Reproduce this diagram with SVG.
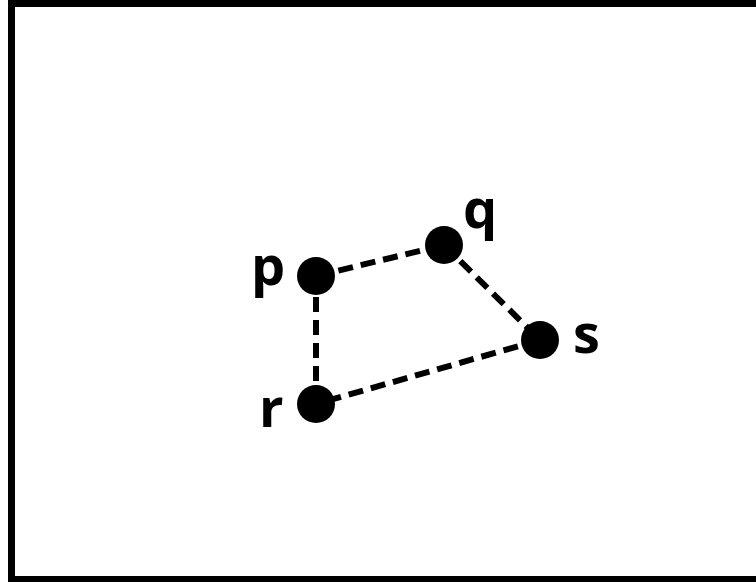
<svg xmlns="http://www.w3.org/2000/svg" width="756" height="582" viewBox="0 0 756 582">
  <style>
    .frame { fill: #ffffff; stroke: #000000; stroke-width: 7; }
    .edge { stroke: #000000; stroke-width: 6; stroke-dasharray: 15 8; fill: none; }
    .dot { fill: #000000; }
    .label { font-family: "Open Sans", "Liberation Sans", sans-serif; font-weight: bold; font-size: 54px; fill: #000000; }
  </style>
  <rect class="frame" x="11.5" y="3.5" width="760" height="576"/>
  <g id="connectors">
    <line class="edge" x1="316" y1="276" x2="444" y2="245"/>
    <line class="edge" x1="444" y1="245" x2="540" y2="340"/>
    <line class="edge" x1="540" y1="340" x2="316" y2="404"/>
    <line class="edge" x1="316" y1="404" x2="316" y2="276"/>
  </g>
  <g id="node-p">
    <circle class="dot" cx="316" cy="276" r="19"/>
    <text class="label" x="251" y="285">p</text>
  </g>
  <g id="node-q">
    <circle class="dot" cx="444" cy="245" r="19"/>
    <text class="label" x="463" y="228">q</text>
  </g>
  <g id="node-s">
    <circle class="dot" cx="540" cy="340" r="19"/>
    <text class="label" x="573" y="353">s</text>
  </g>
  <g id="node-r">
    <circle class="dot" cx="316" cy="404" r="19"/>
    <text class="label" x="259" y="427">r</text>
  </g>
</svg>
